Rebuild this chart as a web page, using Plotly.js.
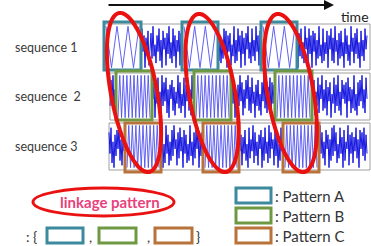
<!DOCTYPE html>
<html><head><meta charset="utf-8">
<script src="https://cdn.plot.ly/plotly-3.0.1.min.js"></script>
<style>html,body{margin:0;padding:0;background:#fff;overflow:hidden}#chart{width:371px;height:246px}</style>
</head><body><div id="chart"></div>
<script>
// ---- data ----
const sequenceLabels = ['sequence 1', 'sequence  2', 'sequence 3'];
const patternLabels = [': Pattern A', ': Pattern B', ': Pattern C'];
const linkageLabel = 'linkage pattern';
const timeLabel = 'time';

const seq1Noise = [3,-6,8,-2,5,-9,4,-3,7,-8,2,6,-5,9,-4,1,-7,5,-2,8,
-6,3,-9,7,-1,4,-8,6,-3,9,-5,2,-7,8,-4,5,-9,3,-2,7,
-8,6,-1,9,-6,4,-7,2,-5,8,-3,7,-9,5,-2,6,-8,1,-4,9,
-7,3,-6,8,-2,5,-9,7,-3,4,-8,6,-1,9,-5,2,-7,8,-4,3,
-6,9,-2,5,-8,7,-3,1,-9,6,-4,8,-5,2,-7,9,-1,4,-6,8,
-3,5,-9,7,-2,6,-8,3,-5,9,-4,1,-7,8,-6,2,-3,7,-9,5,
-1,8,-6,4,-7,9,-2,3,-8,6,-5,7,-4,2,-9,8,-3,5,-6,1,
-8,9,-2,4,-7,6,-3,8,-5,2,-9,7,-4,3,-6,8,-1,5];
const seq2Noise = [-4,7,-2,9,-6,3,-8,5,-1,6,-9,4,-3,8,-5,2,-7,9,-4,6,
-2,8,-7,3,-9,5,-1,7,-6,4,-8,2,-3,9,-5,6,-7,1,-4,8,
-9,5,-2,7,-6,3,-8,9,-1,4,-5,8,-3,6,-9,2,-7,5,-4,9,
-2,6,-8,3,-5,7,-1,9,-6,4,-7,8,-3,2,-9,5,-4,7,-6,1,
-8,6,-2,9,-5,3,-7,4,-1,8,-9,6,-3,5,-6,9,-2,7,-8,2,
-4,8,-7,5,-1,9,-6,3,-5,7,-8,4,-2,6,-9,1,-3,8,-7,5,
-4,9,-6,2,-8,7,-1,5,-3,6,-9,8,-2,4,-7,3,-5,9,-6,1,
-8,6,-4,7,-2,9,-5,3,-7,8,-1];
const seq3Noise = [6,-3,8,-7,2,-9,5,-4,7,-1,9,-6,3,-8,4,-2,8,-5,6,-9,
1,-7,9,-3,5,-8,2,-6,7,-4,9,-1,3,-8,6,-5,8,-2,4,-9,
7,-3,5,-7,1,-6,9,-4,2,-8,6,-5,7,-1,8,-9,3,-4,6,-7,
9,-2,5,-8,4,-3,7,-6,1,-9,8,-5,3,-2,9,-7,6,-4,2,-8,
5,-1,7,-9,4,-6,8,-3,2,-7,9,-5,6,-1,3,-8,7,-4,5,-9,
1,-6,8,-2,4,-7,9,-3,6,-5,2,-8,7,-1,5,-9,3,-6,8,-4,
9,-2,6,-7,1,-5,8,-3,4,-9,7,-6,2,-1,9,-8,5,-3,6,-7,
4,-2,8,-5,3,-9,7,-1,6,-4,8,-6,5,-3];
const patternA = [9,-9,9,-9,9,-9,9];
const patternB = [-9,9,-9,9,-9,9,-9,9,-9,9,-9,9,-9,9,-9,9,-9,9,-9];
const patternC = [-9,9,-9,9,-9,9,-9,9,-9,9,-9,9,-9,9,-9,9,-9,9,-9];

// ---- layout geometry (pixels) ----
const W = 371, H = 246;
const teal = '#3d8a9e', green = '#6e9842', orange = '#b8733b', red = '#ea1111';
const rows = [
  {top:24, bottom:70, left:104, noise:seq1Noise, pat:patternA, color:teal,
   win:[[104,141],[182,218],[261,297]], box:[22,70]},
  {top:73, bottom:120, left:110, noise:seq2Noise, pat:patternB, color:green,
   win:[[116,152],[194,231],[275,312]], box:[71,120]},
  {top:123, bottom:170, left:109, noise:seq3Noise, pat:patternC, color:orange,
   win:[[125,161],[203,239],[283,319]], box:[123,172]}
];

const traces = [];
const shapes = [];
const annotations = [];
const layout = {
  width: W, height: H, margin:{l:0,r:0,t:0,b:0},
  paper_bgcolor:'#fff', plot_bgcolor:'rgba(0,0,0,0)', showlegend:false,
  xaxis:{range:[0,W], visible:false, fixedrange:true},
  yaxis:{range:[H,0], domain:[0,1], visible:false, fixedrange:true}
};

rows.forEach((r, k) => {
  const ax = 'y' + (k + 2);
  layout['yaxis' + (k + 2)] = {domain:[1 - r.bottom / H, 1 - r.top / H], range:[-10, 10], visible:false, fixedrange:true};
  const nx = [], ny = [];
  let idx = 0;
  for (let x = r.left; x <= W; x += 1) {
    const inside = r.win.some(w => x > w[0] && x < w[1]);
    nx.push(x);
    if (inside || idx >= r.noise.length) ny.push(null);
    else ny.push(r.noise[idx++]);
  }
  traces.push({x:nx, y:ny, yaxis:ax, mode:'lines', line:{color:'#1616e0', width:1}, connectgaps:false, hoverinfo:'skip'});
  r.win.forEach(w => {
    const pad = 2, n = r.pat.length;
    const px = r.pat.map((_, i) => w[0] + pad + i * (w[1] - w[0] - 2 * pad) / (n - 1));
    traces.push({x:px, y:r.pat, yaxis:ax, mode:'lines', line:{color:'#5050f0', width:0.9}, hoverinfo:'skip'});
    shapes.push({type:'rect', xref:'x', yref:'y', x0:w[0], x1:w[1], y0:r.box[0], y1:r.box[1],
      line:{color:r.color, width:3}, layer:'above'});
  });
  shapes.push({type:'rect', xref:'x', yref:'y', x0:r.left, x1:W - 1, y0:r.top, y1:r.bottom,
    line:{color:'#a0a0a0', width:1}, layer:'below'});
  annotations.push({x:13, y:(r.top + r.bottom) / 2, xref:'x', yref:'y', text:sequenceLabels[k],
    showarrow:false, xanchor:'left', yanchor:'middle', font:{family:'Lato, Open Sans, sans-serif', size:12.5, color:'#3a3a3a'}});
});

function ellipsePath(top, bottom, b) {
  const cx = (top[0] + bottom[0]) / 2, cy = (top[1] + bottom[1]) / 2;
  const dx = bottom[0] - top[0], dy = bottom[1] - top[1];
  const a = Math.hypot(dx, dy) / 2;
  const ux = dx / (2 * a), uy = dy / (2 * a);
  const vx = uy, vy = -ux;
  let p = '';
  for (let i = 0; i <= 72; i++) {
    const t = i / 72 * 2 * Math.PI;
    const x = cx + a * Math.cos(t) * ux + b * Math.sin(t) * vx;
    const y = cy + a * Math.cos(t) * uy + b * Math.sin(t) * vy;
    p += (i ? 'L' : 'M') + x.toFixed(2) + ',' + y.toFixed(2);
  }
  return p + 'Z';
}
[[[119,13],[149,172]], [[198,14],[226,172]], [[277,14],[304,172]]].forEach(e => {
  shapes.push({type:'path', xref:'x', yref:'y', path:ellipsePath(e[0], e[1], 23),
    line:{color:red, width:4}, layer:'above'});
});

annotations.push({x:334, y:5, ax:107, ay:5, xref:'x', yref:'y', axref:'x', ayref:'y', text:'',
  showarrow:true, arrowhead:2, arrowsize:1, arrowwidth:2, arrowcolor:'#111'});
annotations.push({x:339, y:16, xref:'x', yref:'y', text:timeLabel, showarrow:false, xanchor:'left', yanchor:'middle',
  font:{family:'Lato, Open Sans, sans-serif', size:14, color:'#222'}});

shapes.push({type:'circle', xref:'x', yref:'y', x0:33, x1:174, y0:188, y1:216, line:{color:red, width:3}});
annotations.push({x:110, y:202, xref:'x', yref:'y', text:'<b>' + linkageLabel + '</b>', showarrow:false,
  font:{family:'Lato, Open Sans, sans-serif', size:15, color:'#e8417c'}});
const colors = [teal, green, orange];
const bx = [[47,83],[99,136],[155,192]];
bx.forEach((b, i) => shapes.push({type:'rect', xref:'x', yref:'y', x0:b[0], x1:b[1], y0:228, y1:243, line:{color:colors[i], width:3}}));
const sym = [[24, ': {'], [87, ','], [145, ','], [194, '}']];
sym.forEach(s => annotations.push({x:s[0], y:236, xref:'x', yref:'y', text:s[1], showarrow:false, xanchor:'left', yanchor:'middle',
  font:{family:'Lato, Open Sans, sans-serif', size:14, color:'#333'}}));

[[188,203],[208,223],[228,243]].forEach((y, i) => {
  shapes.push({type:'rect', xref:'x', yref:'y', x0:236, x1:271, y0:y[0], y1:y[1], line:{color:colors[i], width:3}});
  annotations.push({x:273, y:(y[0] + y[1]) / 2, xref:'x', yref:'y', text:patternLabels[i], showarrow:false,
    xanchor:'left', yanchor:'middle', font:{family:'Lato, Open Sans, sans-serif', size:15, color:'#333'}});
});

layout.shapes = shapes;
layout.annotations = annotations;
Plotly.newPlot('chart', traces, layout, {staticPlot:true, displayModeBar:false});
</script></body></html>
